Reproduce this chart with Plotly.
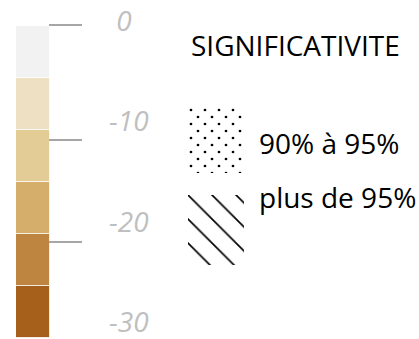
import plotly.graph_objects as go

# Colour classes of the scale, from 0 at the top down to -30
class_edges = [0, -5, -10, -15, -20, -25, -30]
class_colors = ["#f2f2f2", "#ede0c3", "#e3cc95", "#d5ae6c", "#bd8540", "#a6601b"]

# Scale labels
tick_values = [0, -10, -20, -30]
tick_labels = ["\u00a00", "-10", "-20", "-30"]

# Significance legend
legend_title = "SIGNIFICATIVITE"
pattern_labels = ["90% à 95%", "plus de 95%"]

W, H = 419, 339
FONT = "Open Sans"


def fx(p):
    """pixel column -> paper fraction"""
    return p / W


def fy(p):
    """pixel row (from top) -> paper fraction"""
    return 1 - p / H


fig = go.Figure()

# stacked colour blocks of the scale
fig.add_trace(go.Bar(
    x=[0] * len(class_colors),
    y=[b - a for a, b in zip(class_edges[:-1], class_edges[1:])],
    base=class_edges[:-1],
    width=1,
    marker=dict(color=class_colors, line=dict(color="rgba(255,255,255,0.75)", width=1)),
    xaxis="x", yaxis="y", hoverinfo="skip", showlegend=False,
))

# hatched swatch (plus de 95%)
fig.add_trace(go.Bar(
    x=[0], y=[1], width=1,
    marker=dict(color="rgba(0,0,0,0)", line=dict(width=0),
                pattern=dict(shape="\\", size=17, solidity=0.1,
                             fgcolor="black", fgopacity=1, fillmode="overlay")),
    xaxis="x2", yaxis="y2", hoverinfo="skip", showlegend=False,
))

# dotted swatch (90% à 95%): two offset dot grids give a staggered layout
for xa, ya in (("x3", "y3"), ("x4", "y4")):
    fig.add_trace(go.Bar(
        x=[0], y=[1], width=1,
        marker=dict(color="rgba(0,0,0,0)", line=dict(width=0),
                    pattern=dict(shape=".", size=14, solidity=0.03,
                                 fgcolor="black", fgopacity=1, fillmode="overlay")),
        xaxis=xa, yaxis=ya, hoverinfo="skip", showlegend=False,
    ))

hidden = dict(visible=False, fixedrange=True)
fig.update_layout(
    width=W, height=H,
    margin=dict(l=0, r=0, t=0, b=0),
    paper_bgcolor="white", plot_bgcolor="rgba(0,0,0,0)",
    barmode="overlay", bargap=0,
    xaxis=dict(domain=[fx(16), fx(50)], range=[-0.5, 0.5], **hidden),
    yaxis=dict(domain=[0, 1], range=[-30.1, 2.5], anchor="x", **hidden),
    xaxis2=dict(domain=[fx(188), fx(244)], range=[-0.5, 0.5], anchor="y2", **hidden),
    yaxis2=dict(domain=[fy(265), fy(195)], range=[0, 1], anchor="x2", **hidden),
    xaxis3=dict(domain=[fx(191), fx(245)], range=[-0.5, 0.5], anchor="y3", **hidden),
    yaxis3=dict(domain=[fy(173), fy(110)], range=[0, 1], anchor="x3", **hidden),
    xaxis4=dict(domain=[fx(184), fx(238)], range=[-0.5, 0.5], anchor="y4", **hidden),
    yaxis4=dict(domain=[fy(173), fy(103)], range=[0, 1], anchor="x4", **hidden),
    # axis carrying the scale labels
    yaxis5=dict(domain=[0, 1], range=[-31.8, 2.0], overlaying="y", anchor="x", **hidden),
)

# short grey tick strokes beside the scale
for row in (25, 140, 242):
    fig.add_shape(type="line", xref="paper", yref="paper",
                  x0=fx(49), x1=fx(82), y0=fy(row), y1=fy(row),
                  line=dict(color="#a6a6a6", width=2))

# scale labels
for v, t in zip(tick_values, tick_labels):
    fig.add_annotation(x=fx(108), y=v, xref="paper", yref="y5",
                       text=t, showarrow=False, xanchor="left", yanchor="middle",
                       borderpad=0,
                       font=dict(family=FONT, size=28, color="#bfbfbf", style="italic"))

# significance legend texts
fig.add_annotation(x=fx(189), y=fy(45), xref="paper", yref="paper",
                   text=legend_title, showarrow=False, xanchor="left", yanchor="middle",
                   font=dict(family=FONT, size=28, color="black"))
for row, t in zip((143, 197), pattern_labels):
    fig.add_annotation(x=fx(257), y=fy(row), xref="paper", yref="paper",
                       text=t, showarrow=False, xanchor="left", yanchor="middle",
                       font=dict(family=FONT, size=28, color="black"))

fig.write_html("out.html")
